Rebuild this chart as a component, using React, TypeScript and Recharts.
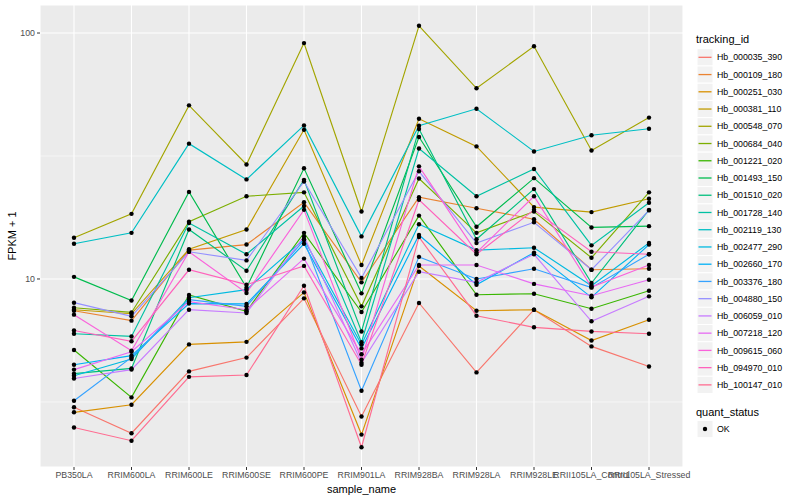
import { LineChart, Line, XAxis, YAxis, CartesianGrid, ReferenceLine, Label } from 'recharts';

const samples = [
  'PB350LA',
  'RRIM600LA',
  'RRIM600LE',
  'RRIM600SE',
  'RRIM600PE',
  'RRIM901LA',
  'RRIM928BA',
  'RRIM928LA',
  'RRIM928LE',
  'RRII105LA_Control',
  'RRII105LA_Stressed',
];

// FPKM + 1 per sample, one array per gene
const hb000035_390 = [3.01, 2.36, 4.21, 4.79, 8.34, 2.76, 7.99, 4.17, 7.5, 5.32, 4.41];
const hb000109_180 = [7.43, 6.77, 13.1, 13.8, 20.5, 9.69, 21.5, 19.4, 17.5, 10.9, 11.0];
const hb000251_030 = [2.87, 3.08, 5.42, 5.55, 8.82, 2.33, 11.3, 7.43, 7.5, 5.62, 6.83];
const hb000381_110 = [7.5, 7.22, 13.2, 15.9, 40.4, 11.4, 44.8, 34.6, 19.6, 18.7, 21.2];
const hb000548_070 = [14.7, 18.4, 50.8, 29.2, 91.0, 18.8, 107, 59.6, 88.3, 33.3, 45.3];
const hb000684_040 = [7.64, 7.31, 17.1, 21.7, 22.5, 7.74, 25.6, 15.4, 18.8, 12.2, 22.5];
const hb001221_020 = [5.14, 3.3, 8.61, 7.39, 15.4, 7.34, 18.1, 8.63, 8.71, 7.57, 8.96];
const hb001493_150 = [10.2, 8.18, 22.6, 9.22, 28.2, 8.74, 37.8, 16.3, 25.7, 16.2, 16.4];
const hb001510_020 = [4.12, 4.33, 15.9, 10.8, 25.3, 6.12, 40.7, 14.5, 23.2, 9.63, 19.1];
const hb001728_140 = [5.99, 5.84, 16.9, 12.6, 19.8, 5.53, 33.9, 21.7, 28.0, 13.7, 20.4];
const hb002119_130 = [13.9, 15.4, 35.5, 25.4, 42.1, 14.9, 42.0, 49.2, 33.0, 38.4, 40.8];
const hb002477_290 = [4.04, 4.73, 8.39, 9.05, 14.5, 5.41, 16.7, 13.1, 13.4, 9.39, 14.0];
const hb002660_170 = [4.48, 4.88, 7.94, 7.92, 13.9, 5.22, 15.1, 9.48, 12.8, 8.42, 13.8];
const hb003376_180 = [3.2, 4.8, 8.24, 7.74, 14.4, 3.51, 12.3, 10.0, 11.0, 9.22, 12.6];
const hb004880_150 = [8.01, 7.05, 12.9, 11.9, 24.9, 10.1, 27.4, 14.0, 17.0, 10.9, 19.0];
const hb006059_010 = [3.94, 4.28, 7.5, 7.27, 14.9, 4.56, 10.7, 9.69, 12.6, 6.73, 8.5];
const hb007218_120 = [4.28, 5.06, 8.09, 7.5, 12.1, 4.94, 11.4, 11.4, 9.55, 8.55, 9.93];
const hb009615_060 = [7.16, 5.11, 12.9, 8.77, 19.1, 4.7, 28.7, 12.8, 21.7, 9.28, 11.4];
const hb094970_010 = [6.17, 5.58, 10.9, 9.48, 11.3, 4.48, 21.0, 12.6, 19.1, 12.9, 12.6];
const hb100147_010 = [2.49, 2.2, 4.0, 4.07, 9.39, 2.07, 14.8, 7.09, 6.36, 6.12, 5.99];

const series = [
  { id: 'Hb_000035_390', color: '#F8766D', values: hb000035_390 },
  { id: 'Hb_000109_180', color: '#EA8331', values: hb000109_180 },
  { id: 'Hb_000251_030', color: '#D89000', values: hb000251_030 },
  { id: 'Hb_000381_110', color: '#C09B00', values: hb000381_110 },
  { id: 'Hb_000548_070', color: '#A3A500', values: hb000548_070 },
  { id: 'Hb_000684_040', color: '#7CAE00', values: hb000684_040 },
  { id: 'Hb_001221_020', color: '#39B600', values: hb001221_020 },
  { id: 'Hb_001493_150', color: '#00BB4E', values: hb001493_150 },
  { id: 'Hb_001510_020', color: '#00BF7D', values: hb001510_020 },
  { id: 'Hb_001728_140', color: '#00C1A3', values: hb001728_140 },
  { id: 'Hb_002119_130', color: '#00BFC4', values: hb002119_130 },
  { id: 'Hb_002477_290', color: '#00BAE0', values: hb002477_290 },
  { id: 'Hb_002660_170', color: '#00B0F6', values: hb002660_170 },
  { id: 'Hb_003376_180', color: '#35A2FF', values: hb003376_180 },
  { id: 'Hb_004880_150', color: '#9590FF', values: hb004880_150 },
  { id: 'Hb_006059_010', color: '#C77CFF', values: hb006059_010 },
  { id: 'Hb_007218_120', color: '#E76BF3', values: hb007218_120 },
  { id: 'Hb_009615_060', color: '#FA62DB', values: hb009615_060 },
  { id: 'Hb_094970_010', color: '#FF62BC', values: hb094970_010 },
  { id: 'Hb_100147_010', color: '#FF6C91', values: hb100147_010 },
];

const yTicks = [10, 100];
const minorTicks = [3.162, 31.62];

const data = samples.map((sample, i) => {
  const row: Record<string, string | number> = { sample };
  series.forEach(s => {
    row[s.id] = s.values[i];
  });
  return row;
});

const FONT = '"Liberation Sans", Arial, Helvetica, sans-serif';

function PointDot(props: any) {
  const { cx, cy } = props;
  if (cx == null || cy == null) return null;
  return <circle cx={cx} cy={cy} r={2.2} fill="#000" />;
}

// ggplot-style legend on the right, drawn as svg so key lines stay crisp
function LegendPanel() {
  const rowH = 17.24;
  const top0 = 48.7;
  const keyX = 7;
  const keyW = 16;
  return (
    <svg
      width={110}
      height={460}
      style={{ position: 'absolute', left: 690, top: 0, fontFamily: FONT }}
    >
      <text x={6} y={43} fontSize={11} fill="#000">tracking_id</text>
      {series.map((s, i) => {
        const y = top0 + i * rowH;
        return (
          <g key={s.id}>
            <rect x={keyX} y={y} width={keyW} height={rowH} fill="#F2F2F2" stroke="#fff" strokeWidth={1} />
            <line x1={keyX + 1.5} x2={keyX + keyW - 1.5} y1={y + rowH / 2} y2={y + rowH / 2} stroke={s.color} strokeWidth={1.3} />
            <text x={27} y={y + rowH / 2 + 3.1} fontSize={8.8} fill="#000">{s.id}</text>
          </g>
        );
      })}
      <text x={6} y={416} fontSize={11} fill="#000">quant_status</text>
      <rect x={keyX} y={420.4} width={keyW} height={rowH} fill="#F2F2F2" stroke="#fff" strokeWidth={1} />
      <circle cx={keyX + keyW / 2} cy={420.4 + rowH / 2} r={2.2} fill="#000" />
      <text x={27} y={420.4 + rowH / 2 + 3.1} fontSize={8.8} fill="#000">OK</text>
    </svg>
  );
}

export default function App() {
  return (
    <div style={{ position: 'absolute', left: 0, top: 0, width: 800, height: 500, background: '#fff', fontFamily: FONT }}>
      <LineChart width={800} height={500} data={data} margin={{ top: 5, right: 117, bottom: 0, left: 0 }}>
        <CartesianGrid fill="#EBEBEB" stroke="#fff" strokeWidth={1.1} />
        {minorTicks.map(v => (
          <ReferenceLine key={v} y={v} stroke="#fff" strokeWidth={0.55} />
        ))}
        <XAxis
          dataKey="sample"
          interval={0}
          height={33}
          padding={{ left: 34, right: 34 }}
          axisLine={false}
          tickSize={3}
          tickLine={{ stroke: '#333333' }}
          tick={{ fontSize: 8.8, fill: '#4D4D4D', fontFamily: FONT }}
        >
          <Label value="sample_name" position="insideBottom" offset={7} style={{ fontSize: 11, fill: '#000', fontFamily: FONT }} />
        </XAxis>
        <YAxis
          scale="log"
          domain={[1.72, 130]}
          allowDataOverflow
          ticks={yTicks}
          width={40}
          axisLine={false}
          tickSize={3}
          tickLine={{ stroke: '#333333' }}
          tick={{ fontSize: 8.8, fill: '#4D4D4D', fontFamily: FONT }}
        />
        {series.map(s => (
          <Line
            key={s.id}
            type="linear"
            dataKey={s.id}
            stroke={s.color}
            strokeWidth={1.15}
            dot={false}
            activeDot={false}
            isAnimationActive={false}
          />
        ))}
        {series.map(s => (
          <Line
            key={`${s.id}-pts`}
            type="linear"
            dataKey={s.id}
            stroke="none"
            dot={<PointDot />}
            activeDot={false}
            legendType="none"
            isAnimationActive={false}
          />
        ))}
      </LineChart>
      <div
        style={{
          position: 'absolute', left: 12, top: 236, fontSize: 11, whiteSpace: 'nowrap',
          transform: 'translate(-50%, -50%) rotate(-90deg)',
        }}
      >
        FPKM + 1
      </div>
      <LegendPanel />
    </div>
  );
}
